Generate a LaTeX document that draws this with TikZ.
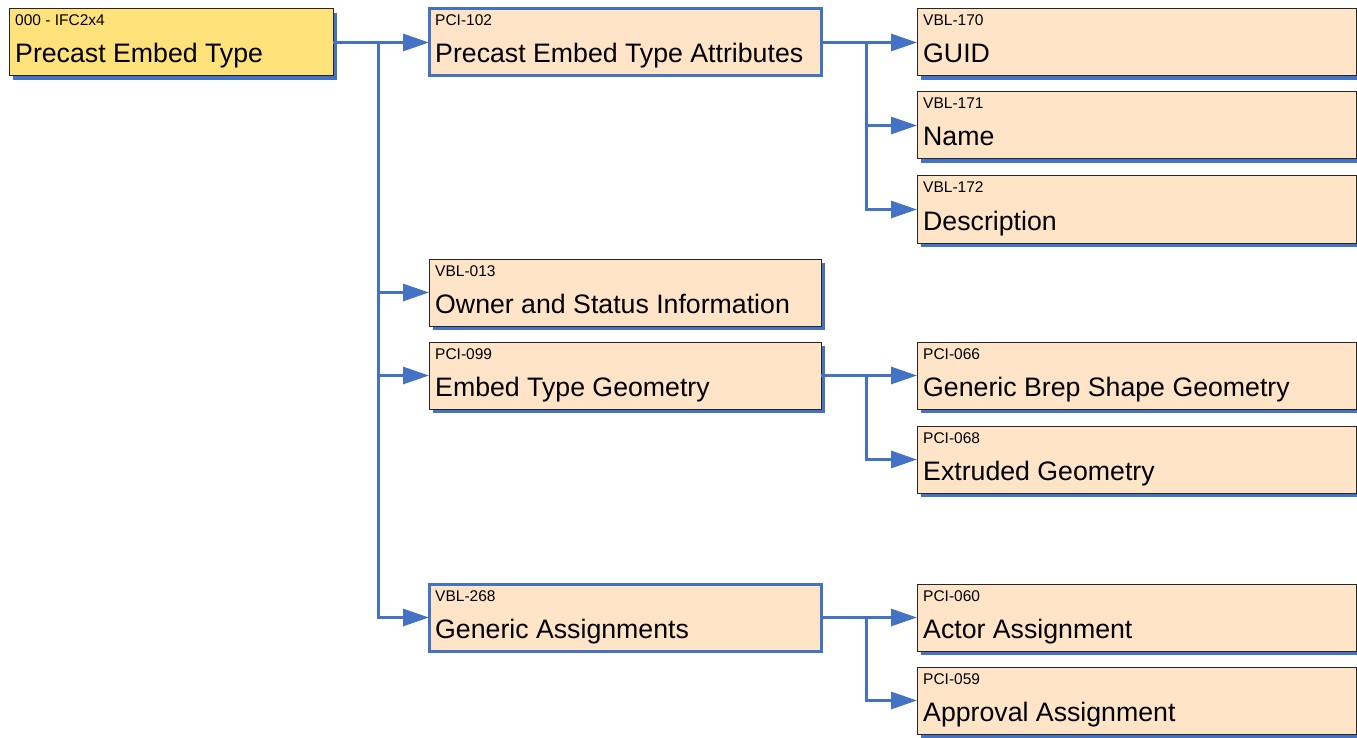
\documentclass[tikz,border=0pt]{standalone}
\usepackage{fontspec}
\setmainfont{Liberation Sans}
\usetikzlibrary{shadows,arrows.meta}
\definecolor{lb}{RGB}{68,114,196}
\definecolor{peach}{RGB}{255,228,200}
\definecolor{gold}{RGB}{255,226,122}
\tikzset{
 box/.style={draw=black!85, line width=1pt, fill=peach, anchor=north west, minimum height=67pt, inner sep=0pt, outer sep=0pt,
   drop shadow={shadow xshift=4pt, shadow yshift=-4pt, fill=lb, opacity=1}},
 rootbox/.style={box, fill=gold},
 keybox/.style={draw=lb, line width=3pt, fill=peach, anchor=north west, minimum height=67pt, inner sep=0pt, outer sep=0pt},
 codetext/.style={anchor=base west, font=\fontsize{15.5}{15.5}\selectfont, inner sep=0pt},
 titletext/.style={anchor=base west, font=\fontsize{26.7}{26.7}\selectfont, inner sep=0pt},
 conn/.style={draw=lb, line width=3pt},
 arr/.style={conn, -{Triangle[length=26pt,width=17pt]}}
}
\newcommand\mkbox[7]{%
 \node[#2, minimum width=#5pt] (#1) at (#3,#4) {};
 \node[codetext] (#1c) at (#3+6,#4+17) {#6};
 \node[titletext] (#1t) at (#3+6,#4+54) {#7};
}
\begin{document}
\begin{tikzpicture}[x=1pt,y=-1pt]
\fill[white] (0,0) rectangle (1357,738);
\useasboundingbox (0,0) rectangle (1357,738);
% boxes
\mkbox{root}{rootbox}{9}{9}{324}{000 - IFC2x4}{Precast Embed Type}
\mkbox{attr}{keybox}{429}{9}{392}{PCI-102}{Precast Embed Type Attributes}
\mkbox{own}{box}{429}{259}{392}{VBL-013}{Owner and Status Information}
\mkbox{geo}{box}{429}{342}{392}{PCI-099}{Embed Type Geometry}
\mkbox{asg}{keybox}{429}{584}{392}{VBL-268}{Generic Assignments}
\mkbox{guid}{box}{917}{9}{439}{VBL-170}{GUID}
\mkbox{name}{box}{917}{92}{439}{VBL-171}{Name}
\mkbox{desc}{box}{917}{176}{439}{VBL-172}{Description}
\mkbox{brep}{box}{917}{342}{439}{PCI-066}{Generic Brep Shape Geometry}
\mkbox{extr}{box}{917}{426}{439}{PCI-068}{Extruded Geometry}
\mkbox{actor}{box}{917}{584}{439}{PCI-060}{Actor Assignment}
\mkbox{appr}{box}{917}{667}{439}{PCI-059}{Approval Assignment}
% connectors
\coordinate (j1) at (378,0 |- root.east);
\coordinate (j2) at (866,0 |- attr.east);
\coordinate (j3) at (866,0 |- geo.east);
\coordinate (j4) at (866,0 |- asg.east);
\draw[conn] (root.east) -- (j1);
\draw[arr] (j1) |- (attr.west);
\draw[arr] (j1) |- (own.west);
\draw[arr] (j1) |- (geo.west);
\draw[arr] (j1) |- (asg.west);
\draw[conn] (attr.east) -- (j2);
\draw[arr] (j2) |- (guid.west);
\draw[arr] (j2) |- (name.west);
\draw[arr] (j2) |- (desc.west);
\draw[conn] (geo.east) -- (j3);
\draw[arr] (j3) |- (brep.west);
\draw[arr] (j3) |- (extr.west);
\draw[conn] (asg.east) -- (j4);
\draw[arr] (j4) |- (actor.west);
\draw[arr] (j4) |- (appr.west);
\end{tikzpicture}
\end{document}
